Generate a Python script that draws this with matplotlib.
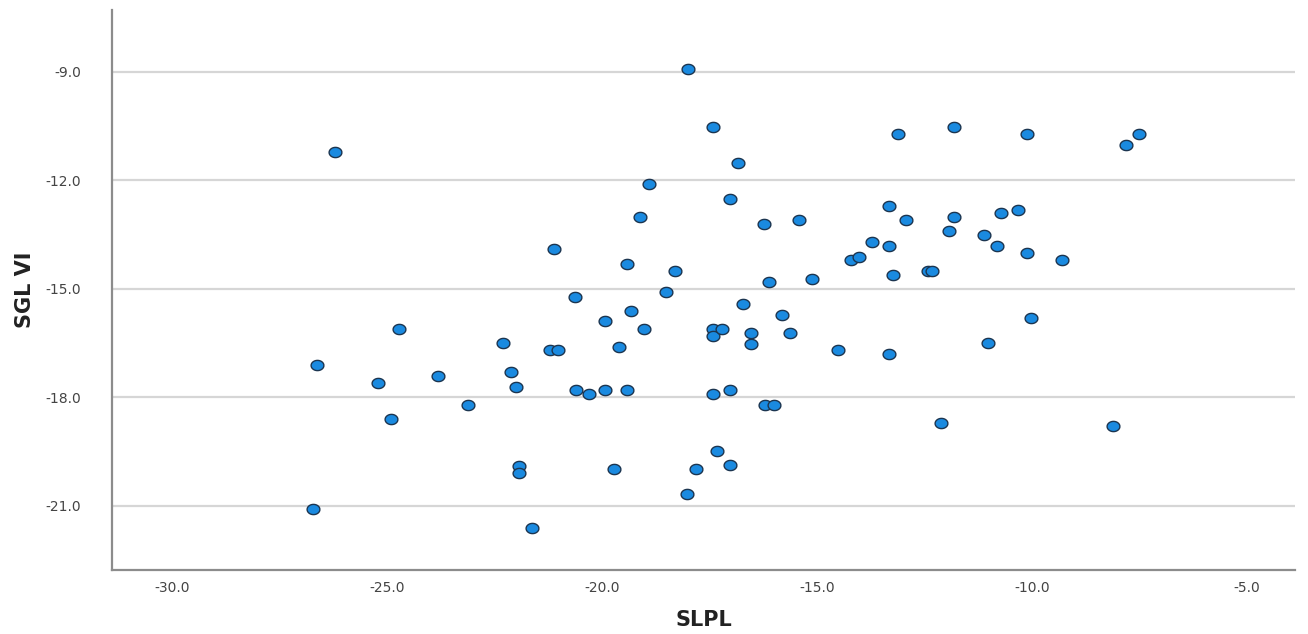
import matplotlib
matplotlib.use("Agg")
import matplotlib.pyplot as plt
import numpy as np

# SLPL (x) and SGL VI (y)
slpl = [-26.72, -26.21, -26.63, -25.21, -24.91, -24.72, -23.81, -23.12, -22.30, -22.12,
        -22.00, -21.93, -21.93, -21.63, -21.21, -21.02, -21.12, -20.63, -20.60, -20.30,
        -19.93, -19.93, -19.72, -19.60, -19.42, -19.42, -19.33, -19.12, -19.02, -18.91,
        -18.51, -18.30, -18.00, -18.02, -17.81, -17.42, -17.42, -17.42, -17.21, -17.42,
        -17.33, -17.02, -17.02, -17.02, -16.84, -16.72, -16.53, -16.53, -16.23, -16.21,
        -16.00, -16.12, -15.81, -15.63, -15.42, -15.12, -14.51, -14.21, -14.02, -13.72,
        -13.33, -13.33, -13.23, -13.33, -13.12, -12.93, -12.42, -12.33, -12.12, -11.93,
        -11.81, -11.81, -11.12, -11.02, -10.81, -10.72, -10.33, -10.12, -10.12, -10.02,
        -9.30, -8.12, -7.81, -7.51]
sgl_vi = [-21.08, -11.21, -17.10, -17.60, -18.59, -16.10, -17.40, -18.21, -16.49, -17.29,
          -17.71, -19.89, -20.09, -21.61, -16.69, -16.69, -13.89, -15.22, -17.79, -17.90,
          -17.79, -15.88, -19.97, -16.60, -17.79, -14.31, -15.61, -13.01, -16.11, -12.10,
          -15.08, -14.50, -8.92, -20.67, -19.97, -10.52, -16.11, -16.30, -16.11, -17.90,
          -19.48, -19.87, -17.79, -12.51, -11.52, -15.41, -16.22, -16.52, -13.20, -18.21,
          -18.21, -14.81, -15.72, -16.22, -13.09, -14.72, -16.69, -14.20, -14.11, -13.70,
          -13.81, -12.70, -14.61, -16.80, -10.71, -13.09, -14.50, -14.50, -18.70, -13.40,
          -13.01, -10.52, -13.51, -16.49, -13.81, -12.90, -12.82, -10.71, -14.00, -15.80,
          -14.20, -18.79, -11.02, -10.71]

x_ticks = [-30.0, -25.0, -20.0, -15.0, -10.0, -5.0]
y_ticks = [-9.0, -12.0, -15.0, -18.0, -21.0]

fig = plt.figure(figsize=(13.08, 6.34), dpi=100)
ax = fig.add_axes([0.0856, 0.101, 0.9044, 0.883])

# slightly wide ellipse marker like the SPSS dots
t = np.linspace(0, 2 * np.pi, 40)
ellipse = np.column_stack((1.25 * np.cos(t), np.sin(t)))

ax.scatter(slpl, sgl_vi, marker=ellipse, s=85, facecolor='#1a8ae0',
           edgecolor='#1c3550', linewidth=1.0, zorder=3)

ax.set_xlim(-31.4, -3.88)
ax.set_ylim(-22.77, -7.29)
ax.set_xticks(x_ticks)
ax.set_yticks(y_ticks)
ax.set_xticklabels(['%.1f' % v for v in x_ticks])
ax.set_yticklabels(['%.1f' % v for v in y_ticks])
ax.tick_params(axis='x', length=0, labelsize=10, labelcolor='#444444', pad=8)
ax.tick_params(axis='y', length=0, labelsize=10, labelcolor='#444444', pad=22)

ax.grid(axis='y', color='#d6d6d6', linewidth=1.6)
ax.set_axisbelow(True)
for side in ['top', 'right']:
    ax.spines[side].set_visible(False)
for side in ['left', 'bottom']:
    ax.spines[side].set_color('#8c8c8c')
    ax.spines[side].set_linewidth(1.6)

label_font = ['Liberation Sans Narrow', 'DejaVu Sans']
ax.set_xlabel('SLPL', fontsize=15, fontweight='bold', family=label_font,
              color='#222222', va='center')
ax.xaxis.set_label_coords(0.5, -0.089)
ax.set_ylabel('SGL VI', fontsize=15, fontweight='bold', family=label_font,
              color='#222222', va='center')
ax.yaxis.set_label_coords(-0.0735, 0.5)

fig.savefig('out.png', dpi=100)
